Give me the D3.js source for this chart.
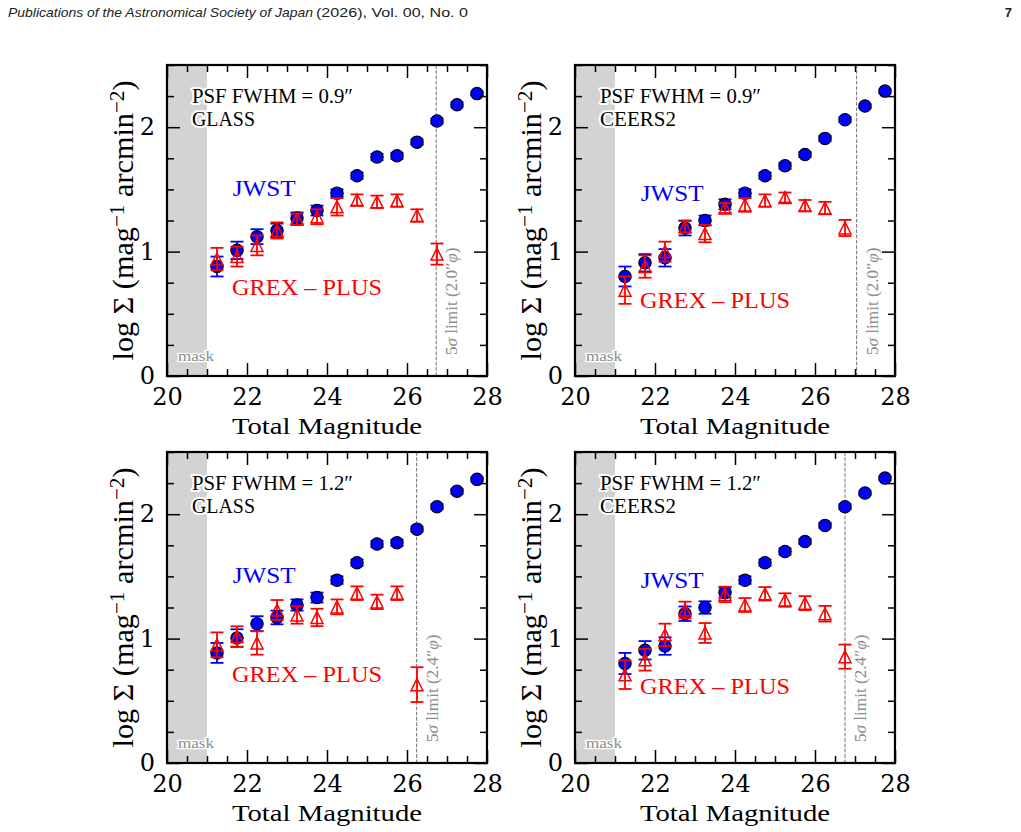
<!DOCTYPE html>
<html><head><meta charset="utf-8">
<script src="https://cdn.jsdelivr.net/npm/d3@7"></script>
<style>body{margin:0;background:#fff;} svg{display:block;}</style>
</head><body>
<svg id="c" width="1021" height="832"></svg>
<script>
// ---------------- data ----------------
const mags = [21.25,21.75,22.25,22.75,23.25,23.75,24.25,24.75,25.25,25.75,26.25,26.75,27.25,27.75];
const xTickValues = [20,22,24,26,28];
const xTickLabels = ['20','22','24','26','28'];
const yTickValues = [0,1,2];
const yTickLabels = ['0','1','2'];
const fieldNames = ['GLASS','CEERS2','GLASS','CEERS2'];
const psfFwhm = ['0.9','0.9','1.2','1.2'];
const limitMag = [26.73, 27.04, 26.24, 26.75];
const limitAperture = ['2.0','2.0','2.4','2.4'];

// Panel 1: GLASS, 0.9"
const jwst1 = [0.88,1.01,1.12,1.17,1.27,1.33,1.47,1.61,1.76,1.77,1.88,2.05,2.18,2.27];
const jwstErr1 = [0.08,0.07,0.06,0.055,0.045,0.04,0.03,0.025,0.025,0.025,0.02,0.02,0.02,0.015];
const grex1 = [0.94,0.96,1.05,1.17,1.26,1.28,1.36,1.415,1.40,1.41,1.29,0.98];
const grexErr1 = [0.09,0.08,0.08,0.065,0.045,0.06,0.07,0.045,0.05,0.05,0.05,0.085];
// Panel 2: CEERS2, 0.9"
const jwst2 = [0.80,0.91,0.95,1.19,1.25,1.38,1.47,1.61,1.69,1.78,1.91,2.06,2.17,2.29];
const jwstErr2 = [0.08,0.07,0.07,0.06,0.04,0.04,0.03,0.025,0.025,0.02,0.02,0.02,0.015,0.015];
const grex2 = [0.69,0.88,1.00,1.20,1.145,1.35,1.375,1.41,1.435,1.37,1.35,1.19];
const grexErr2 = [0.11,0.09,0.08,0.045,0.07,0.04,0.055,0.05,0.04,0.045,0.05,0.065];
// Panel 3: GLASS, 1.2"
const jwst3 = [0.885,1.005,1.12,1.17,1.27,1.33,1.47,1.61,1.76,1.77,1.88,2.06,2.185,2.28];
const jwstErr3 = [0.08,0.07,0.06,0.055,0.045,0.04,0.03,0.025,0.025,0.025,0.02,0.02,0.02,0.015];
const grex3 = [0.95,1.016,0.965,1.23,1.19,1.17,1.255,1.365,1.295,1.365,0.63];
const grexErr3 = [0.10,0.083,0.094,0.08,0.07,0.07,0.06,0.055,0.058,0.055,0.14];
// Panel 4: CEERS2, 1.2"
const jwst4 = [0.80,0.906,0.94,1.20,1.25,1.37,1.47,1.61,1.70,1.78,1.91,2.06,2.17,2.29];
const jwstErr4 = [0.085,0.074,0.07,0.058,0.05,0.04,0.03,0.025,0.025,0.02,0.02,0.02,0.015,0.015];
const grex4 = [0.71,0.83,1.03,1.23,1.045,1.355,1.27,1.36,1.31,1.285,1.20,0.855];
const grexErr4 = [0.115,0.087,0.09,0.067,0.08,0.062,0.056,0.054,0.054,0.056,0.063,0.097];

const jwstAll = [jwst1,jwst2,jwst3,jwst4];
const jwstErrAll = [jwstErr1,jwstErr2,jwstErr3,jwstErr4];
const grexAll = [grex1,grex2,grex3,grex4];
const grexErrAll = [grexErr1,grexErr2,grexErr3,grexErr4];

// ---------------- layout ----------------
const W = 320, H = 311;
const origins = [[167,65],[575,65],[167,452],[575,452]];
const jwstLabelY = [131,136,131,136];
const grexLabelY = [230,242.5,229.7,242.3];
const SERIF = "'Liberation Serif','Times New Roman',serif";
const DIGIT = "'DejaVu Serif',serif";

const svg = d3.select('#c');
svg.append('rect').attr('width',1021).attr('height',832).attr('fill','#fff');

function fitSize(sel, targetW) {
  const w = sel.node().getBBox().width;
  const fs = parseFloat(sel.attr('font-size'));
  sel.attr('font-size', fs * targetW / w);
  return sel;
}
function fitLen(sel, targetW) {
  sel.attr('textLength', targetW).attr('lengthAdjust','spacingAndGlyphs');
  return sel;
}

// header
svg.append('text').attr('x',8).attr('y',17).attr('font-family',"'Liberation Sans',Arial,sans-serif")
  .attr('font-size',13).attr('font-style','italic').attr('fill','#222')
  .text('Publications of the Astronomical Society of Japan').call(s=>fitLen(s,305));
svg.append('text').attr('x',316).attr('y',17).attr('font-family',"'Liberation Sans',Arial,sans-serif")
  .attr('font-size',13).attr('fill','#222').text('(2026), Vol. 00, No. 0').call(s=>fitLen(s,152));
svg.append('text').attr('x',1012).attr('y',17).attr('text-anchor','end').attr('font-family',"'Liberation Sans',Arial,sans-serif")
  .attr('font-size',13).attr('font-weight','bold').attr('fill','#222').text('7');

const trianglePath = s => `M0,${-s}L${-s},${s}L${s},${s}Z`;

function drawSeries(g, x, y, vals, errs, color, kind) {
  const data = vals.map((v,i)=>({m:mags[i], v, e:errs[i]}));
  const cap = 6.5;
  const eg = g.append('g').attr('stroke',color).attr('stroke-width',1.8);
  eg.selectAll('line.v').data(data).join('line')
    .attr('x1',d=>x(d.m)).attr('x2',d=>x(d.m)).attr('y1',d=>y(d.v-d.e)).attr('y2',d=>y(d.v+d.e));
  eg.selectAll('line.t').data(data).join('line')
    .attr('x1',d=>x(d.m)-cap).attr('x2',d=>x(d.m)+cap).attr('y1',d=>y(d.v+d.e)).attr('y2',d=>y(d.v+d.e));
  eg.selectAll('line.b').data(data).join('line')
    .attr('x1',d=>x(d.m)-cap).attr('x2',d=>x(d.m)+cap).attr('y1',d=>y(d.v-d.e)).attr('y2',d=>y(d.v-d.e));
  if (kind === 'circle') {
    g.append('g').selectAll('circle').data(data).join('circle')
      .attr('cx',d=>x(d.m)).attr('cy',d=>y(d.v)).attr('r',6.2)
      .attr('fill','#0000ff').attr('stroke','#000').attr('stroke-width',1.1);
  } else {
    g.append('g').selectAll('path').data(data).join('path')
      .attr('transform',d=>`translate(${x(d.m)},${y(d.v)})`).attr('d',trianglePath(6))
      .attr('fill','none').attr('stroke',color).attr('stroke-width',1.5).attr('stroke-linejoin','miter');
  }
}

for (let p = 0; p < 4; p++) {
  const [ox, oy] = origins[p];
  const g = svg.append('g').attr('transform',`translate(${ox},${oy})`);
  const x = d3.scaleLinear().domain([20,28]).range([0,W]);
  const y = d3.scaleLinear().domain([0,2.5]).range([H,0]);

  // mask
  g.append('rect').attr('x',x(20)).attr('y',0).attr('width',x(21)-x(20)).attr('height',H).attr('fill','#d3d3d3');
  g.append('text').attr('x',x(20)+11).attr('y',H-15).attr('font-family',SERIF).attr('font-size',14)
    .attr('fill','#8c8c8c').attr('stroke','#fff').attr('stroke-width',2.5).attr('paint-order','stroke')
    .attr('stroke-linejoin','round').text('mask').call(s=>fitLen(s,36));

  // limit line
  const lx = x(limitMag[p]);
  g.append('line').attr('x1',lx).attr('x2',lx).attr('y1',0).attr('y2',H)
    .attr('stroke','#7f7f7f').attr('stroke-width',1.1).attr('stroke-dasharray','3.7,1.6');
  const lt = g.append('text').attr('font-family',SERIF).attr('font-size',14).attr('fill','#8c8c8c');
  lt.append('tspan').text('5');
  lt.append('tspan').attr('font-style','italic').text('σ');
  lt.append('tspan').text(' limit (' + limitAperture[p]);
  lt.append('tspan').text('″');
  lt.append('tspan').attr('font-style','italic').text('φ');
  lt.append('tspan').text(')');
  fitSize(lt, 108);
  lt.attr('transform',`translate(${lx+21},${H-21}) rotate(-90)`);

  // series
  drawSeries(g, x, y, jwstAll[p], jwstErrAll[p], '#0000ff', 'circle');
  drawSeries(g, x, y, grexAll[p], grexErrAll[p], '#ff0000', 'triangle');

  // annotations
  const halo = s => s.attr('stroke','#fff').attr('stroke-width',4).attr('paint-order','stroke').attr('stroke-linejoin','round');
  g.append('text').attr('x',25).attr('y',38).attr('font-family',SERIF).attr('font-size',20).attr('fill','#000')
    .call(halo).text('PSF FWHM = ' + psfFwhm[p] + '″').call(s=>fitLen(s,161));
  g.append('text').attr('x',25).attr('y',61).attr('font-family',SERIF).attr('font-size',20).attr('fill','#000')
    .call(halo).text(fieldNames[p]).call(s=>fitLen(s, p%2===0 ? 63 : 76));
  g.append('text').attr('x',65.7).attr('y',jwstLabelY[p]).attr('font-family',SERIF).attr('font-size',22.5)
    .attr('fill','#0000ff').text('JWST').call(s=>fitLen(s,63));
  g.append('text').attr('x',65).attr('y',grexLabelY[p]).attr('font-family',SERIF).attr('font-size',23)
    .attr('fill','#ff0000').text('GREX – PLUS').call(s=>fitLen(s,150));

  // axes (inward ticks)
  const minorX = d3.range(20,28.01,0.5).filter(v=>!xTickValues.includes(v));
  const minorY = d3.range(0,2.51,0.25).filter(v=>!yTickValues.includes(v));
  const MAJ = 13, MIN = 7;
  const axes = [
    [d3.axisBottom(x).tickValues(xTickValues).tickSize(-MAJ).tickPadding(12).tickFormat((d,i)=>xTickLabels[i]), `translate(0,${H})`],
    [d3.axisBottom(x).tickValues(minorX).tickSize(-MIN).tickFormat(''), `translate(0,${H})`],
    [d3.axisTop(x).tickValues(xTickValues).tickSize(-MAJ).tickFormat(''), null],
    [d3.axisTop(x).tickValues(minorX).tickSize(-MIN).tickFormat(''), null],
    [d3.axisLeft(y).tickValues(yTickValues).tickSize(-MAJ).tickPadding(12).tickFormat((d,i)=>yTickLabels[i]), null],
    [d3.axisLeft(y).tickValues(minorY).tickSize(-MIN).tickFormat(''), null],
    [d3.axisRight(y).tickValues(yTickValues).tickSize(-MAJ).tickFormat(''), `translate(${W},0)`],
    [d3.axisRight(y).tickValues(minorY).tickSize(-MIN).tickFormat(''), `translate(${W},0)`],
  ];
  axes.forEach(([ax, tr]) => {
    const a = g.append('g');
    if (tr) a.attr('transform', tr);
    a.call(ax);
    a.select('.domain').remove();
    a.selectAll('.tick line').attr('stroke','#000').attr('stroke-width',1.5);
    a.selectAll('.tick text').attr('font-family',DIGIT).attr('font-size',24).attr('fill','#000');
  });

  // frame
  g.append('rect').attr('x',0).attr('y',0).attr('width',W).attr('height',H)
    .attr('fill','none').attr('stroke','#000').attr('stroke-width',2.2);

  // axis titles
  g.append('text').attr('x',W/2 - 95).attr('y',H+58).attr('text-anchor','start')
    .attr('font-family',SERIF).attr('font-size',24).attr('fill','#000').text('Total Magnitude')
    .call(s=>fitLen(s,190));
  const yl = g.append('text').attr('font-family',SERIF).attr('font-size',24).attr('fill','#000');
  yl.append('tspan').text('log Σ (mag');
  yl.append('tspan').attr('font-size','0.7em').attr('dy',-9).text('−1');
  yl.append('tspan').attr('dy',9).text(' arcmin');
  yl.append('tspan').attr('font-size','0.7em').attr('dy',-9).text('−2');
  yl.append('tspan').attr('dy',9).text(')');
  fitSize(yl, 280);
  const bb = yl.node().getBBox();
  yl.attr('transform',`translate(-34,${H/2 + bb.width/2}) rotate(-90)`);
}
</script>
</body></html>
